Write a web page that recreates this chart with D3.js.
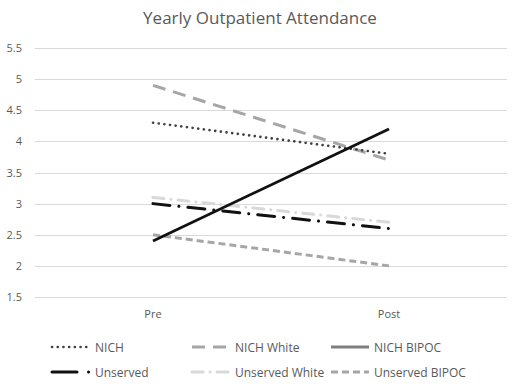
<!DOCTYPE html>
<html>
<head>
<meta charset="utf-8">
<script src="https://cdn.jsdelivr.net/npm/d3@7"></script>
<style>
  body { margin: 0; background: #fff; }
  text { font-family: "Open Sans", "Noto Sans", sans-serif; fill: #595959; }
</style>
</head>
<body>
<div id="chart"></div>
<script>
const width = 520;
const height = 388;

const categories = ["Pre", "Post"];
const seriesNames = ["NICH", "NICH White", "NICH BIPOC", "Unserved", "Unserved White", "Unserved BIPOC"];
const nich = [4.3, 3.8];
const nichWhite = [4.9, 3.7];
const nichBipoc = [2.4, 4.2];
const unserved = [3.0, 2.6];
const unservedWhite = [3.1, 2.7];
const unservedBipoc = [2.5, 2.0];
const yTicks = [1.5, 2, 2.5, 3, 3.5, 4, 4.5, 5, 5.5];

const seriesValues = [nich, nichWhite, nichBipoc, unserved, unservedWhite, unservedBipoc];

// line styles per series
const styles = [
    { color: "#404040", dash: "0.1 5.6", cap: "round", w: 2.6 },
    { color: "#a6a6a6", dash: "13 8", cap: "butt", w: 3 },
    { color: "#111111", legendColor: "#7f7f7f", dash: null, cap: "butt", w: 2.8 },
    { color: "#111111", dash: "17 9 0.1 9", legendDash: "25 11.5 0.1 20", cap: "round", w: 3 },
    { color: "#d9d9d9", dash: "11 7 0.1 7", cap: "round", w: 3 },
    { color: "#a6a6a6", dash: "7 4", cap: "butt", w: 3 }
];

const margin = { top: 48, left: 35, right: 13, bottom: 91 };

const svg = d3.select("#chart")
    .append("svg")
    .attr("width", width)
    .attr("height", height);

const x = d3.scaleBand()
    .domain(categories)
    .range([margin.left, width - margin.right]);

const y = d3.scaleLinear()
    .domain([1.5, 5.5])
    .range([height - margin.bottom, margin.top]);

svg.append("text")
    .attr("x", 260)
    .attr("y", 24)
    .attr("text-anchor", "middle")
    .style("font-size", "17px")
    .text("Yearly Outpatient Attendance");

// grid lines
svg.append("g")
    .selectAll("line")
    .data(yTicks)
    .enter().append("line")
    .attr("x1", margin.left)
    .attr("x2", width - margin.right)
    .attr("y1", d => Math.round(y(d)) + 0.5)
    .attr("y2", d => Math.round(y(d)) + 0.5)
    .attr("stroke", "#d9d9d9")
    .attr("stroke-width", 1);

const yAxis = svg.append("g")
    .attr("transform", `translate(${margin.left - 13},0)`)
    .call(d3.axisLeft(y).tickValues(yTicks).tickFormat(d => String(d)).tickSize(0).tickPadding(0));
yAxis.select(".domain").remove();
yAxis.selectAll("text")
    .style("font-size", "11px")
    .style("font-family", "'Open Sans', 'Noto Sans', sans-serif")
    .attr("fill", "#595959");

const xAxis = svg.append("g")
    .attr("transform", `translate(0,${height - margin.bottom + 10})`)
    .call(d3.axisBottom(x).tickSize(0).tickPadding(3));
xAxis.select(".domain").remove();
xAxis.selectAll("text")
    .style("font-size", "11px")
    .style("font-family", "'Open Sans', 'Noto Sans', sans-serif")
    .attr("fill", "#595959");

const line = d3.line()
    .x((d, i) => x(categories[i]) + x.bandwidth() / 2)
    .y(d => y(d));

// draw in order so the solid line sits on top like the original
const drawOrder = [5, 4, 3, 1, 0, 2];
svg.append("g")
    .selectAll("path")
    .data(drawOrder)
    .enter().append("path")
    .attr("d", i => line(seriesValues[i]))
    .attr("fill", "none")
    .attr("stroke", i => styles[i].color)
    .attr("stroke-width", i => styles[i].w)
    .attr("stroke-dasharray", i => styles[i].dash)
    .attr("stroke-linecap", i => styles[i].cap);

// legend
const legendCols = [52, 192, 331];
const legendRows = [347, 372];
const legend = svg.append("g")
    .selectAll("g")
    .data(seriesNames)
    .enter().append("g")
    .attr("transform", (d, i) => `translate(${legendCols[i % 3]},${legendRows[Math.floor(i / 3)]})`);

legend.append("line")
    .attr("x1", 0)
    .attr("x2", 38)
    .attr("y1", 0)
    .attr("y2", 0)
    .attr("stroke", (d, i) => styles[i].legendColor || styles[i].color)
    .attr("stroke-width", (d, i) => styles[i].w)
    .attr("stroke-dasharray", (d, i) => styles[i].legendDash || styles[i].dash)
    .attr("stroke-linecap", (d, i) => styles[i].cap);

legend.append("text")
    .attr("x", 43)
    .attr("y", 4.5)
    .style("font-size", "12px")
    .text(d => d);
</script>
</body>
</html>
